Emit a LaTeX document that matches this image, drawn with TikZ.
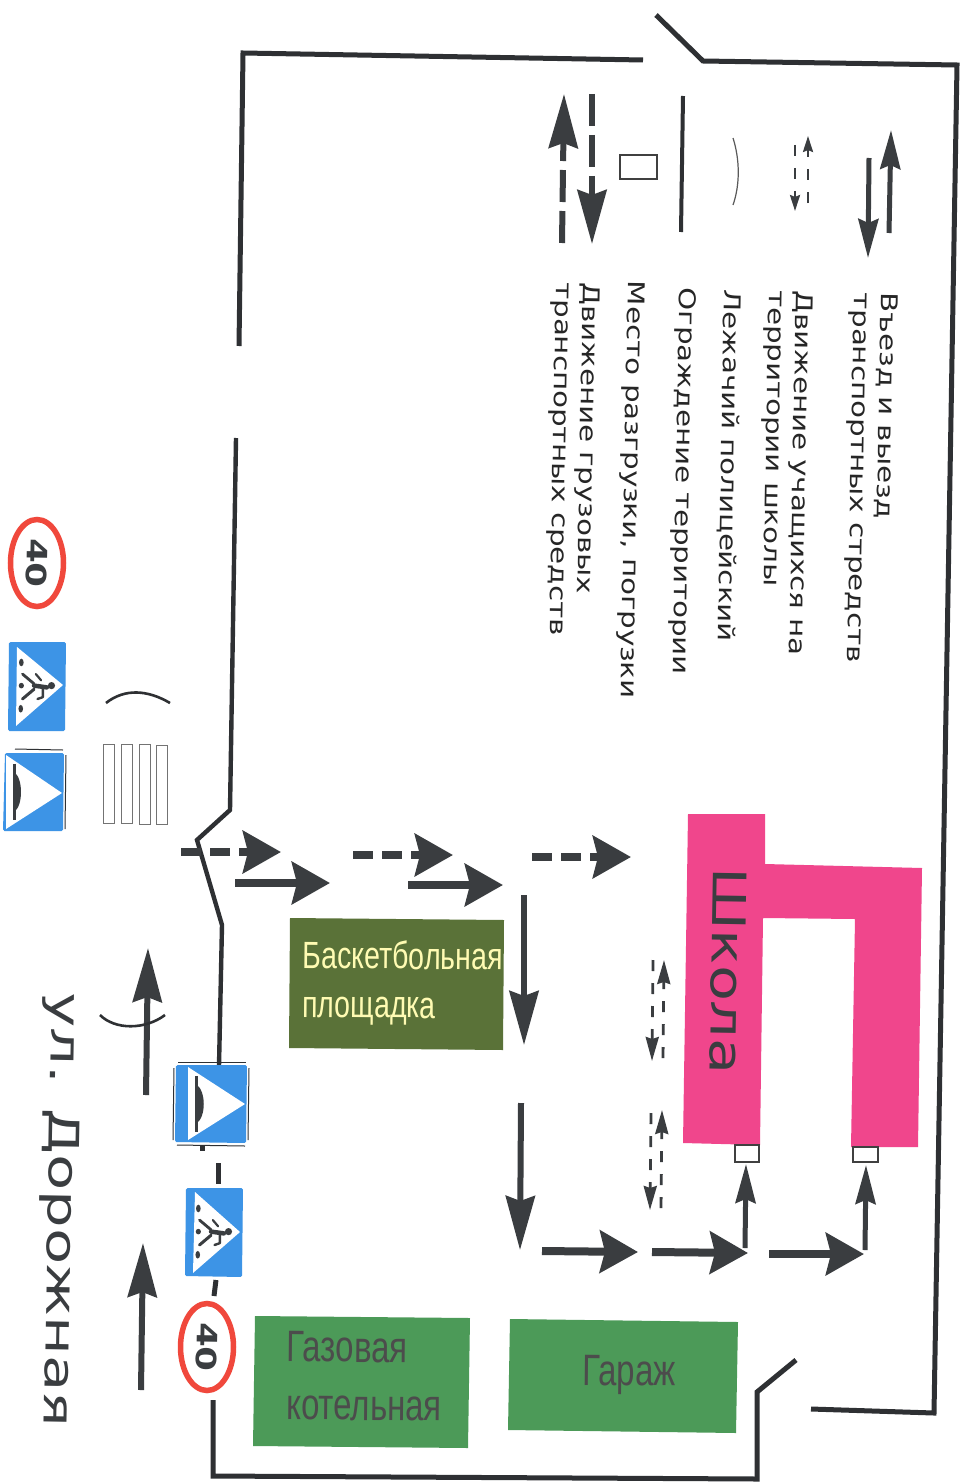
\documentclass[tikz,border=0pt]{standalone}
\usepackage{fontspec}
\usetikzlibrary{arrows.meta,shapes.geometric}
\setmainfont{DejaVu Sans}
\newfontfamily\widef[FakeStretch=1.27]{DejaVu Sans}
\newfontfamily\streetf[FakeStretch=1.4]{DejaVu Sans}
\newfontfamily\narrowf[FakeStretch=0.75]{Liberation Sans}
\definecolor{ink}{HTML}{3A3D40}
\definecolor{fence}{HTML}{2E3033}
\definecolor{schoolc}{HTML}{F0468C}
\definecolor{signb}{HTML}{3D94E6}
\definecolor{signr}{HTML}{F0483C}
\definecolor{olivec}{HTML}{5A7238}
\definecolor{greenc}{HTML}{4C9A58}
\tikzset{
  fenceline/.style={draw=fence,line width=5pt,line join=miter},
  bigarrow/.style={draw=ink,line width=8pt,-{Stealth[length=38pt,width=42pt,inset=5pt]}},
  midarrow/.style={draw=ink,line width=6pt,-{Stealth[length=54pt,width=29pt,inset=5pt]}},
  thinarrow/.style={draw=ink,line width=5pt,-{Stealth[length=39pt,width=20pt,inset=4pt]}},
  tinyarrow/.style={draw=ink,line width=2.8pt,-{Stealth[length=24pt,width=13pt,inset=2pt]}},
  legendtiny/.style={draw=ink,line width=2.4pt,-{Stealth[length=16pt,width=10pt,inset=2pt]}},
  dashbig/.style={dash pattern=on 20pt off 9pt},
  dashmid/.style={dash pattern=on 32pt off 9pt},
  dashtiny/.style={dash pattern=on 11pt off 12pt},
  legendtext/.style={rotate=-91,anchor=north west,inner sep=0pt,align=left,font=\widef\fontsize{23}{27}\selectfont,text=black!85},
  plate/.style={fill=signb,rounded corners=1.5pt},
  whitetri/.style={fill=white},
  door/.style={draw=black!75,line width=1.4pt,fill=white},
  zebra/.style={draw=black!55,line width=1pt,fill=white},
  nametext/.style={rotate=-0.5,inner sep=0pt,align=left},
  signedge/.style={draw=fence,line width=1pt}
}
\newcommand{\farrow}[4][]{\coordinate (#2s) at (#3);\coordinate (#2e) at (#4);\draw[#1] (#2s) -- (#2e);}
\newcommand{\pedfig}[2]{% top-left of a 58x89 plate
  \begin{scope}[shift={(#1,#2)},x=58pt,y=-89pt]
    \fill[ink] (.75,.49) circle [radius=3.6pt];
    \draw[ink,line width=4.5pt,line cap=round] (.67,.51) -- (.45,.49);
    \draw[ink,line width=2.8pt,line cap=round,line join=round] (.45,.47) -- (.25,.36);
    \draw[ink,line width=2.2pt,line cap=round] (.57,.43) -- (.48,.36);
    \draw[ink,line width=3pt,line cap=round,line join=round] (.45,.53) -- (.25,.64);
    \draw[ink,line width=2.4pt,line cap=round,line join=round] (.6,.53) -- (.6,.62) -- (.51,.64);
    \fill[ink] (.23,.23) ellipse [x radius=2.3pt,y radius=3.8pt];
    \fill[ink] (.23,.49) ellipse [x radius=2.6pt,y radius=2.8pt];
    \fill[ink] (.22,.75) ellipse [x radius=2.3pt,y radius=3.8pt];
  \end{scope}}
\newcommand{\bumpfig}[5]{% plate left, top, width, height, bar position
  \begin{scope}[shift={(#1,#2)},x=#3pt,y=-#4pt]
    \draw[ink,line width=3pt] (#5,.14) -- (#5,.86);
    \fill[ink] (#5,.25) .. controls (#5+.14,.33) and (#5+.14,.67) .. (#5,.75) -- cycle;
  \end{scope}}
\newcommand{\fortysign}[3]{% name, centre x, y
  \node[ellipse,draw=signr,fill=white,line width=5.5pt,minimum width=53pt,minimum height=87pt,inner sep=0pt,font=\widef\bfseries\fontsize{28}{28}\selectfont,text=ink] (#1) at (#2,#3) {\rotatebox{-91}{40}};}
\begin{document}
\begin{tikzpicture}[x=1pt,y=-1pt]
\useasboundingbox (0,0) rectangle (967,1482);
\fill[white] (0,0) rectangle (967,1482);

% fence
\coordinate (f1) at (643,60); \coordinate (f2) at (243,53); \coordinate (f3) at (239,346);
\draw[fenceline] (f1) -- (f2) -- (f3);
\coordinate (g1) at (236,438); \coordinate (g2) at (230,810); \coordinate (g3) at (197,840);
\coordinate (g4) at (222,925); \coordinate (g5) at (219,1066);
\draw[fenceline,line width=4.4pt] (g1) -- (g2) -- (g3) -- (g4) -- (g5);
\coordinate (h1) at (218,1163); \coordinate (h2) at (218,1184);
\draw[fenceline] (h1) -- (h2);
\coordinate (h8) at (202,1146); \coordinate (h9) at (202,1151);
\draw[fenceline] (h8) -- (h9);
\coordinate (h10) at (216,1280); \coordinate (h11) at (214,1296);
\draw[fenceline] (h10) -- (h11);
\coordinate (h3) at (213,1400); \coordinate (h4) at (213,1476); \coordinate (h5) at (757,1479);
\coordinate (h6) at (757,1392); \coordinate (h7) at (796,1360);
\draw[fenceline] (h3) -- (h4) -- (h5) -- (h6) -- (h7);
\coordinate (k1) at (811,1409); \coordinate (k2) at (934,1413); \coordinate (k3) at (957,65);
\coordinate (k4) at (703,61); \coordinate (k5) at (656,15);
\draw[fenceline] (k1) -- (k2) -- (k3) -- (k4) -- (k5);

% school
\fill[schoolc] (688,814) -- (765,814) -- (765,864) -- (922,868) -- (918,1147) -- (851,1147) -- (855,919) -- (763,918) -- (760,1145) -- (683,1143) -- cycle;
\node[rotate=-91,inner sep=0pt,text=ink,font=\widef\fontsize{46}{46}\selectfont] (school) at (728,971) {Школа};
\draw[door] (735,1145) rectangle (759,1162);
\draw[door] (853,1147) rectangle (878,1162);

% green blocks
\fill[olivec] (290,918) -- (504,920) -- (503,1050) -- (289,1048) -- cycle;
\fill[greenc] (255,1316) -- (470,1318) -- (468,1448) -- (253,1446) -- cycle;
\fill[greenc] (510,1319) -- (738,1322) -- (736,1433) -- (508,1430) -- cycle;
\node[nametext,font=\narrowf\fontsize{38}{49}\selectfont,text=yellow!30!white,anchor=north west] (court) at (303,940) {Баскетбольная\\площадка};
\node[nametext,font=\narrowf\fontsize{44}{58}\selectfont,text=black!70,anchor=north west] (boiler) at (287,1331) {Газовая\\котельная};
\node[nametext,font=\narrowf\fontsize{44}{44}\selectfont,text=black!70] (garage) at (629,1375) {Гараж};

% entry arrows
\farrow[bigarrow,dashbig]{a1}{181,852}{281,852}
\farrow[bigarrow]{a2}{235,883}{330,883}
\farrow[bigarrow,dashbig]{a3}{353,855}{453,855}
\farrow[bigarrow]{a4}{408,885}{503,885}
\farrow[bigarrow,dashbig]{a5}{532,857}{631,857}
\farrow[midarrow]{a6}{524,895}{524,1045}
\farrow[midarrow]{a7}{521,1103}{520,1250}
\farrow[bigarrow]{a8}{542,1251}{638,1252}
\farrow[bigarrow]{a9}{652,1252}{748,1253}
\farrow[bigarrow]{a10}{769,1254}{864,1254}
\farrow[thinarrow]{a11}{745,1248}{746,1164}
\farrow[thinarrow]{a12}{865,1250}{866,1165}
\farrow[midarrow]{r1}{146,1095}{148,948}
\farrow[midarrow]{r2}{141,1390}{143,1243}

% small dashed arrows near school
\farrow[tinyarrow,dashtiny]{s1}{663,1058}{664,960}
\farrow[tinyarrow,dashtiny]{s2}{653,960}{652,1061}
\farrow[tinyarrow,dashtiny]{s3}{661,1208}{662,1110}
\farrow[tinyarrow,dashtiny]{s4}{651,1113}{650,1210}

% legend symbols
\farrow[midarrow,dashmid]{l1}{562,243}{564,94}
\farrow[midarrow,dashmid]{l2}{592,94}{592,244}
\draw[door] (620,155) rectangle (657,179);
\coordinate (l3s) at (683,96); \coordinate (l3e) at (681,232);
\draw[fence,line width=4pt] (l3s) -- (l3e);
\coordinate (l4s) at (733,138); \coordinate (l4e) at (733,205);
\draw[black!65,line width=1.2pt] (l4s) .. controls (740,160) and (740,185) .. (l4e);
\farrow[legendtiny,dashtiny]{l5}{808,203}{808,136}
\farrow[legendtiny,dashtiny]{l6}{795,145}{795,211}
\farrow[thinarrow]{l7}{889,233}{891,130}
\farrow[thinarrow]{l8}{869,158}{868,258}

% legend text
\node[legendtext] (t1) at (898,293) {Въезд и выезд\\транспортных стредств};
\node[legendtext] (t2) at (813,291) {Движение учащихся на\\территории школы};
\node[legendtext] (t3) at (742,290) {Лежачий полицейский};
\node[legendtext] (t4) at (697,288) {Ограждение территории};
\node[legendtext] (t5) at (645,281) {Место разгрузки, погрузки};
\node[legendtext] (t6) at (600,283) {Движение грузовых\\транспортных средств};
\node[rotate=-91,inner sep=0pt,text=ink,font=\streetf\fontsize{42}{42}\selectfont] (street) at (59,1210) {ул. Дорожная};

% crossing and bump
\draw[zebra] (103,744) rectangle (114,823);
\draw[zebra] (121,744) rectangle (132,823);
\draw[zebra] (139,744) rectangle (150,824);
\draw[zebra] (156,745) rectangle (167,824);
\coordinate (b1) at (106,703); \coordinate (b2) at (170,703);
\draw[fence,line width=2.6pt] (b1) .. controls (125,688) and (148,690) .. (b2);
\coordinate (b3) at (100,1015); \coordinate (b4) at (165,1015);
\draw[fence,line width=2.6pt] (b3) .. controls (115,1030) and (145,1030) .. (b4);

% signs: top group
\fortysign{sp1}{37}{563}
\fill[plate] (9,642) -- (66,642) -- (65,731) -- (8,731) -- cycle;
\fill[whitetri] (17,647) -- (63,685) -- (16,726) -- cycle;
\pedfig{8}{642}
\fill[plate] (5,753) -- (64,753) -- (63,831) -- (3,831) -- cycle;
\fill[whitetri] (6,755) -- (62,793) -- (6,829) -- cycle;
\bumpfig{3}{753}{61}{78}{.19}
\coordinate (e1) at (66,755); \coordinate (e2) at (65,829);
\draw[signedge] (e1) -- (e2);
\coordinate (e3) at (15,749); \coordinate (e4) at (63,750);
\draw[signedge] (e3) -- (e4);
% signs: road group
\fill[plate] (176,1065) -- (247,1065) -- (246,1143) -- (175,1142) -- cycle;
\fill[whitetri] (188,1067) -- (245,1104) -- (188,1140) -- cycle;
\bumpfig{175}{1065}{71}{78}{.30}
\coordinate (e5) at (174,1068); \coordinate (e6) at (173,1140);
\draw[signedge] (e5) -- (e6);
\coordinate (e7) at (249,1068); \coordinate (e8) at (248,1140);
\draw[signedge] (e7) -- (e8);
\coordinate (e9) at (178,1062); \coordinate (e10) at (246,1062);
\draw[signedge] (e9) -- (e10);
\coordinate (e11) at (177,1145); \coordinate (e12) at (245,1146);
\draw[signedge] (e11) -- (e12);
\fill[plate] (186,1188) -- (243,1188) -- (242,1277) -- (185,1276) -- cycle;
\fill[whitetri] (195,1192) -- (240,1232) -- (193,1273) -- cycle;
\pedfig{185}{1188}
\fortysign{sp2}{207}{1347}
\end{tikzpicture}
\end{document}
